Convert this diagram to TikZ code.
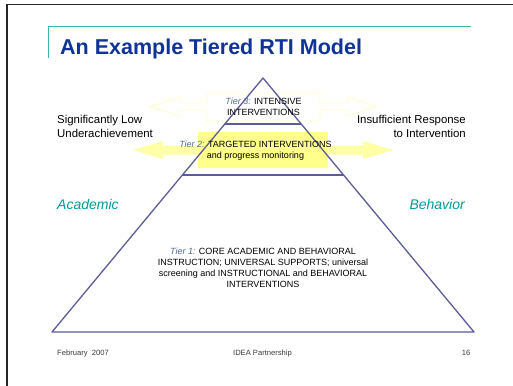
\documentclass[tikz,border=0pt]{standalone}
\usepackage{fontspec}
\setmainfont{Liberation Sans}
\usetikzlibrary{positioning, calc}

\definecolor{pyramid}{RGB}{92,92,152}
\definecolor{titleblue}{RGB}{16,52,150}
\definecolor{tealline}{RGB}{60,182,176}
\definecolor{sideteal}{RGB}{0,155,155}
\definecolor{tierlabel}{RGB}{80,110,140}
\definecolor{paleyellow}{RGB}{255,255,200}
\definecolor{yellowbox}{RGB}{255,255,140}
\definecolor{yellowarrow}{RGB}{255,255,165}
\definecolor{footgray}{RGB}{60,60,60}

\newcommand{\tierlab}[1]{\textcolor{tierlabel}{\itshape Tier #1:}}

\tikzset{
  tiertext/.style={font=\fontsize{9}{11}\selectfont, align=center, inner sep=0pt},
  sidetext/.style={font=\fontsize{11.4}{14}\selectfont, inner sep=0pt},
  subject/.style={font=\fontsize{14}{16}\selectfont\itshape, text=sideteal, inner sep=0pt},
  footer/.style={font=\fontsize{7.6}{9}\selectfont, text=footgray, inner sep=0pt, anchor=base}
}

\begin{document}
\begin{tikzpicture}[x=1pt, y=-1pt]
        \useasboundingbox (0,0) rectangle (513,385);
        \fill[white] (0,0) rectangle (513,385);

        % Slide frame and title rule
        \draw[black!85, line width=1.8pt] (7,395) -- (7,4.5) -- (520,4.5);
        \draw[tealline, line width=0.9pt] (48,58) -- (48,26) -- (471,26);
        \node[anchor=base west, inner sep=0pt, text=titleblue, font=\fontsize{21.5}{24}\selectfont\bfseries] (title) at (60,55) {An Example Tiered RTI Model};

        % Pyramid corners and tier levels
        \coordinate (apex) at (263,78);
        \coordinate (baseL) at (52,332);
        \coordinate (baseR) at (474,332);
        \coordinate (t3L) at ($(apex)!0.181!(baseL)$);
        \coordinate (t3R) at ($(apex)!0.181!(baseR)$);
        \coordinate (t2L) at ($(apex)!0.382!(baseL)$);
        \coordinate (t2R) at ($(apex)!0.382!(baseR)$);

        % Tier 3 arrow (outline only)
        \draw[paleyellow, fill=white, line width=0.8pt]
            (150,106.5) -- (180,97) -- (180,103) -- (207,103) -- (207,93) -- (320,93)
            -- (320,103) -- (347,103) -- (347,97) -- (377,106.5) -- (347,116)
            -- (347,110) -- (320,110) -- (320,121) -- (207,121) -- (207,110)
            -- (180,110) -- (180,116) -- cycle;

        % Tier 2 arrow and box
        \fill[yellowarrow] (133,150) -- (163,141) -- (163,145.5) -- (363,145.5) -- (363,141)
            -- (393,150) -- (363,159) -- (363,154.5) -- (163,154.5) -- (163,159) -- cycle;
        \fill[yellowbox] (198,132) rectangle (328,168);

        % Pyramid
        \draw[pyramid, line width=1.3pt, line join=round] (apex) -- (baseL) -- (baseR) -- cycle;
        \draw[pyramid, line width=1.3pt] (t3L) -- (t3R);
        \draw[pyramid, line width=1.3pt] (t2L) -- (t2R);

        % Tier labels
        \node[tiertext, anchor=north] (tier3) at (263.5,97.4) {\tierlab{3} INTENSIVE\\INTERVENTIONS};
        \node[tiertext, anchor=north] (tier2) at (255.5,140.9) {\tierlab{2} TARGETED INTERVENTIONS\\and progress monitoring};
        \node[tiertext, anchor=north] (tier1) at (263,247.4) {\tierlab{1} CORE ACADEMIC AND BEHAVIORAL\\INSTRUCTION; UNIVERSAL SUPPORTS; universal\\screening and INSTRUCTIONAL and BEHAVIORAL\\INTERVENTIONS};

        % Side texts
        \node[sidetext, anchor=north west, align=left] (lowach) at (57,115) {Significantly Low\\Underachievement};
        \node[sidetext, anchor=north east, align=right] (response) at (466,115) {Insufficient Response\\to Intervention};
        \node[subject, anchor=base west] (academic) at (57,209) {Academic};
        \node[subject, anchor=base east] (behavior) at (465,209) {Behavior};

        % Footer
        \node[footer, anchor=base west] (date) at (57,355.3) {February\ \ 2007};
        \node[footer] (partner) at (262.5,355.3) {IDEA Partnership};
        \node[footer] (page) at (466,355.3) {16};

    \end{tikzpicture}
\end{document}
